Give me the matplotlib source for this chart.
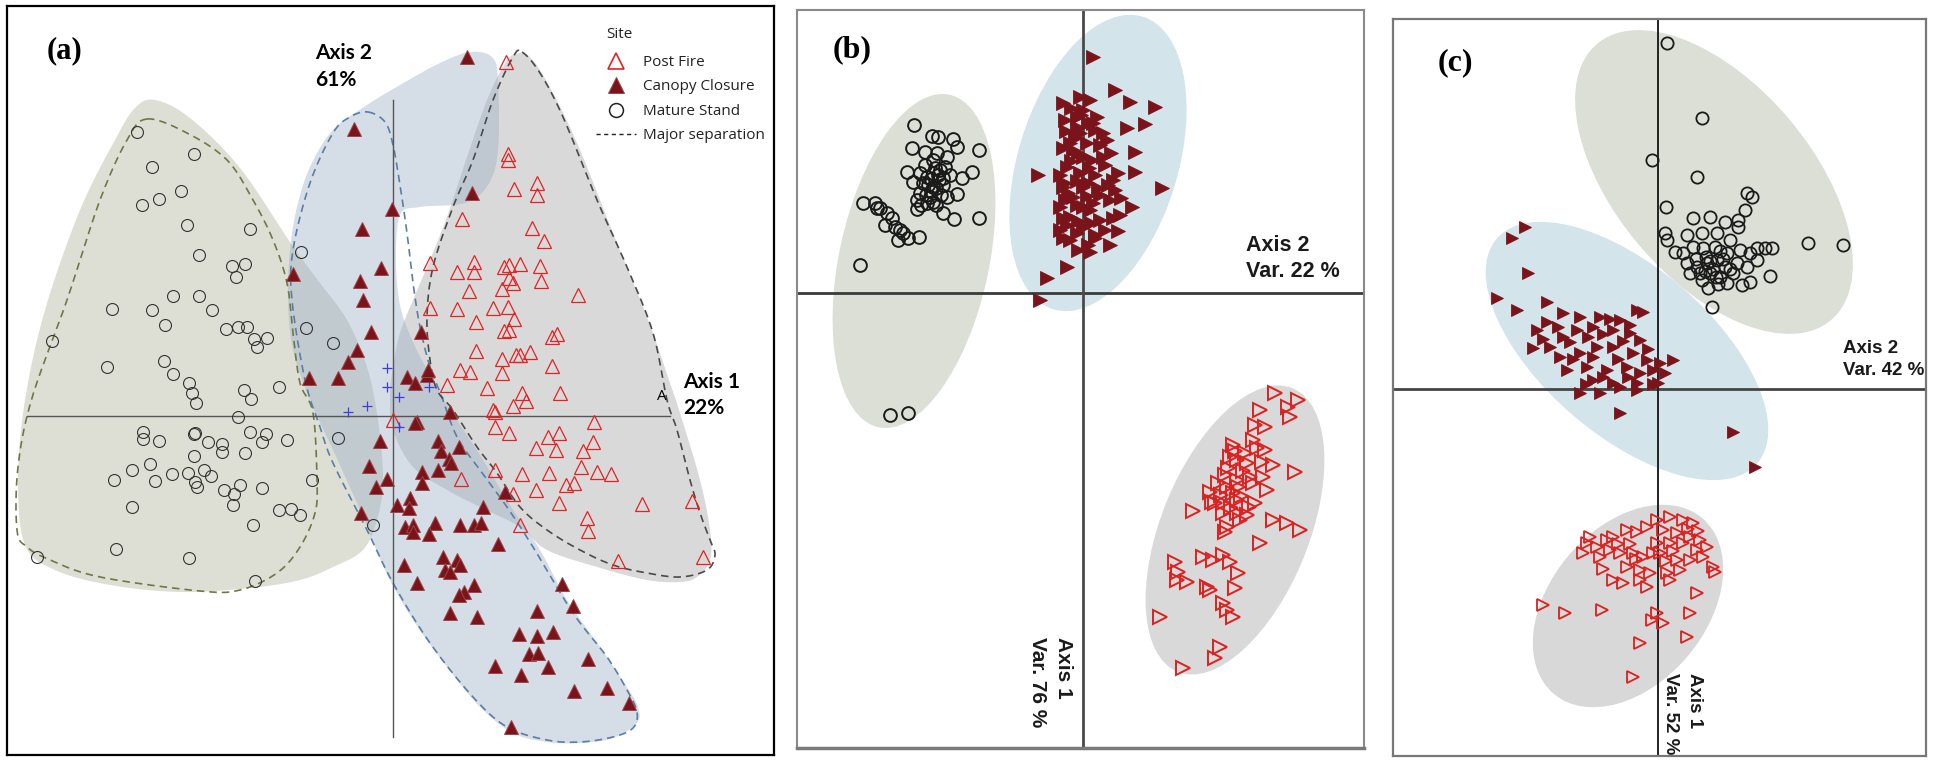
import numpy as np
import matplotlib
matplotlib.use("Agg")
import matplotlib.pyplot as plt
from matplotlib.patches import Ellipse
from matplotlib.lines import Line2D

# ---------------- panel (a): NMDS scores ----------------
a_mature = [(-2.56, 2.84), (-1.99, 2.62), (-2.41, 2.49), (-2.12, 2.25), (-2.34, 2.17), (-2.51, 2.11),
            (-2.06, 1.91), (-1.43, 1.87), (-1.94, 1.61), (-1.61, 1.50), (-1.48, 1.52), (-1.57, 1.39),
            (-0.92, 1.64), (-2.20, 1.20), (-1.94, 1.20), (-2.81, 1.07), (-2.41, 1.06), (-1.81, 1.06),
            (-2.28, 0.91), (-1.67, 0.87), (-1.55, 0.89), (-1.46, 0.89), (-0.87, 0.88), (-0.60, 0.73),
            (-1.39, 0.77), (-1.26, 0.78), (-1.36, 0.69), (-3.41, 0.75), (-2.86, 0.49), (-2.29, 0.55),
            (-2.20, 0.42), (-2.04, 0.33), (-2.01, 0.23), (-1.49, 0.26), (-1.14, 0.29), (-1.42, 0.17),
            (-1.97, 0.13), (-1.55, -0.01), (-2.50, -0.16), (-2.50, -0.23), (-2.34, -0.25), (-1.98, -0.17),
            (-1.99, -0.18), (-1.85, -0.26), (-1.71, -0.28), (-1.71, -0.36), (-1.43, -0.16), (-1.27, -0.18),
            (-1.31, -0.26), (-1.06, -0.24), (-1.99, -0.40), (-1.48, -0.37), (-0.55, -0.22), (-2.43, -0.48),
            (-2.61, -0.54), (-2.79, -0.64), (-2.38, -0.65), (-2.21, -0.58), (-2.05, -0.57), (-1.89, -0.54),
            (-1.82, -0.60), (-1.98, -0.66), (-1.96, -0.71), (-1.69, -0.74), (-1.53, -0.69), (-1.59, -0.78),
            (-1.31, -0.72), (-0.81, -0.64), (-1.60, -0.89), (-2.61, -0.91), (-1.14, -0.94), (-1.02, -0.93),
            (-0.93, -0.99), (-1.40, -1.09), (-0.20, -1.09), (-3.56, -1.41), (-2.77, -1.33), (-2.04, -1.42),
            (-1.38, -1.65)]

a_canopy = [(-0.39, 2.87), (-0.01, 2.07), (-0.31, 1.87), (-0.12, 1.48), (-0.33, 1.35), (-0.30, 1.16),
            (-0.22, 0.84), (-0.36, 0.66), (-0.45, 0.54), (-1.00, 1.42), (-0.84, 0.38), (-0.55, 0.38),
            (0.74, 3.59), (0.79, 2.23), (0.28, 0.84), (0.14, 0.39), (0.22, 0.33), (0.34, 0.41),
            (0.35, 0.46), (-0.13, -0.25), (-0.24, -0.50), (-0.06, -0.63), (-0.17, -0.71), (0.04, -0.89),
            (-0.32, -0.97), (0.57, 0.04), (0.24, -0.06), (0.22, -0.07), (0.45, -0.25), (0.48, -0.35),
            (0.66, -0.31), (0.56, -0.43), (0.58, -0.47), (0.45, -0.54), (0.29, -0.56), (0.29, -0.67),
            (0.17, -0.82), (0.16, -0.92), (0.90, -0.91), (0.42, -1.07), (0.12, -1.11), (0.20, -1.09),
            (0.20, -1.16), (0.36, -1.18), (0.67, -1.09), (0.81, -1.09), (0.88, -1.07), (1.05, -1.28),
            (1.12, -0.76), (0.11, -1.49), (0.50, -1.41), (0.64, -1.44), (0.67, -1.49), (0.52, -1.54),
            (0.57, -1.56), (0.24, -1.67), (0.81, -1.69), (0.71, -1.76), (0.66, -1.79), (1.69, -1.68),
            (1.80, -1.90), (1.44, -1.95), (0.57, -1.97), (0.84, -2.01), (1.26, -2.18), (1.44, -2.20),
            (1.60, -2.16), (1.36, -2.38), (1.45, -2.37), (1.95, -2.43), (1.02, -2.50), (1.55, -2.51),
            (1.28, -2.59), (1.81, -2.75), (2.14, -2.72), (2.36, -2.87), (1.18, -3.11)]

a_postfire = [(1.13, 3.54), (1.15, 2.62), (1.15, 2.56), (1.21, 2.27), (1.44, 2.33), (1.44, 2.21),
              (0.69, 1.97), (1.39, 1.88), (1.51, 1.75), (0.37, 1.53), (0.64, 1.44), (0.81, 1.54),
              (0.81, 1.44), (1.11, 1.49), (1.16, 1.51), (1.27, 1.52), (1.47, 1.50), (1.16, 1.38),
              (1.20, 1.33), (1.09, 1.27), (1.48, 1.35), (0.76, 1.25), (1.85, 1.21), (0.37, 1.08),
              (0.64, 1.07), (1.00, 1.08), (1.15, 1.09), (1.21, 0.97), (0.83, 0.94), (1.11, 0.85),
              (1.16, 0.86), (1.59, 0.79), (1.64, 0.82), (0.83, 0.65), (1.09, 0.57), (1.23, 0.61),
              (1.27, 0.61), (1.37, 0.64), (1.59, 0.50), (0.67, 0.46), (0.77, 0.44), (1.09, 0.43),
              (0.54, 0.31), (0.94, 0.28), (1.29, 0.23), (1.67, 0.23), (1.33, 0.15), (1.00, 0.06),
              (1.02, 0.04), (1.20, 0.10), (0.00, -0.04), (2.01, -0.06), (1.02, -0.11), (1.16, -0.17),
              (1.55, -0.21), (1.66, -0.17), (2.00, -0.26), (1.43, -0.32), (1.63, -0.34), (1.90, -0.35),
              (1.88, -0.51), (1.02, -0.54), (1.29, -0.58), (1.56, -0.57), (2.04, -0.56), (2.18, -0.58),
              (0.68, -0.63), (1.73, -0.69), (1.81, -0.67), (1.43, -0.74), (1.20, -0.78), (1.66, -0.87),
              (2.49, -0.88), (2.99, -0.85), (1.27, -1.09), (1.94, -1.02), (1.95, -1.15), (2.25, -1.45),
              (3.10, -1.41)]

a_centroids = [(-0.06, 0.48), (-0.06, 0.29), (0.36, 0.29), (0.06, 0.19), (-0.26, 0.10), (-0.45, 0.04),
               (0.06, -0.11)]

# group hulls (filled) and major separation lines (dashed)
a_mature_fill = [(-2.38, 3.16), (-2.03, 2.98), (-1.53, 2.48), (-1.01, 1.71), (-0.73, 1.33), (-0.46, 0.96),
                 (-0.26, 0.49), (-0.15, -0.04), (-0.10, -0.64), (-0.16, -1.04), (-0.30, -1.34),
                 (-0.60, -1.51), (-0.93, -1.64), (-1.43, -1.72), (-2.13, -1.76), (-2.83, -1.69),
                 (-3.38, -1.54), (-3.68, -1.29), (-3.75, -0.64), (-3.68, 0.16), (-3.48, 1.06),
                 (-3.13, 2.06), (-2.78, 2.76), (-2.58, 3.08)]
a_mature_line = [(-2.46, 2.97), (-2.06, 2.83), (-1.66, 2.56), (-1.40, 2.16), (-1.20, 1.76), (-1.06, 1.33),
                 (-1.00, 0.83), (-0.93, 0.33), (-0.80, 0.03), (-0.76, -0.64), (-0.78, -0.97),
                 (-0.93, -1.31), (-1.16, -1.57), (-1.53, -1.74), (-1.93, -1.75), (-2.93, -1.61),
                 (-3.43, -1.44), (-3.66, -1.31), (-3.76, -1.14), (-3.75, -0.51), (-3.61, 0.18),
                 (-3.26, 1.16), (-2.93, 2.16), (-2.66, 2.76)]
a_canopy_fill = [(0.07, 3.31), (0.47, 3.53), (0.77, 3.64), (0.99, 3.59), (1.05, 3.36), (1.05, 2.66),
                 (0.95, 2.31), (0.72, 2.13), (0.27, 2.09), (0.07, 2.01), (0.03, 1.56), (0.07, 1.11),
                 (0.19, 0.76), (0.37, 0.41), (0.54, 0.11), (0.87, -0.39), (1.20, -0.94), (1.47, -1.34),
                 (1.74, -1.84), (2.07, -2.31), (2.34, -2.71), (2.45, -2.91), (2.44, -3.07), (2.20, -3.22),
                 (1.87, -3.27), (1.54, -3.26), (1.20, -3.17), (0.87, -2.91), (0.54, -2.51), (0.20, -2.04),
                 (-0.08, -1.54), (-0.33, -0.94), (-0.60, -0.34), (-0.83, 0.16), (-1.00, 0.66),
                 (-1.05, 1.16), (-1.03, 1.66), (-0.96, 2.09), (-0.83, 2.49), (-0.60, 2.86), (-0.26, 3.11)]
a_canopy_line = [(-0.25, 3.04), (-0.08, 2.94), (0.00, 2.71), (0.07, 2.31), (0.14, 1.83), (0.20, 1.33),
                 (0.27, 0.89), (0.37, 0.49), (0.47, 0.24), (0.64, -0.21), (0.87, -0.54), (1.14, -0.91),
                 (1.40, -1.31), (1.80, -1.97), (2.14, -2.41), (2.34, -2.74), (2.44, -2.96), (2.40, -3.12),
                 (2.20, -3.21), (1.87, -3.26), (1.54, -3.24), (1.14, -3.11), (0.80, -2.81), (0.37, -2.27),
                 (0.00, -1.67), (-0.26, -1.14), (-0.60, -0.47), (-0.73, -0.11), (-0.88, 0.36),
                 (-1.01, 1.16), (-1.00, 1.66), (-0.83, 2.33), (-0.60, 2.83), (-0.43, 2.99)]
a_postfire_fill = [(1.20, 3.61), (1.37, 3.59), (1.60, 3.23), (1.87, 2.66), (2.20, 1.83), (2.54, 0.99),
                   (2.77, 0.33), (2.87, 0.03), (3.07, -0.64), (3.17, -1.14), (3.17, -1.44), (3.04, -1.61),
                   (2.87, -1.66), (2.54, -1.64), (2.04, -1.51), (1.54, -1.34), (1.27, -1.11), (0.87, -0.91),
                   (0.54, -0.74), (0.20, -0.51), (0.00, -0.14), (-0.03, 0.19), (0.00, 0.49), (0.07, 0.83),
                   (0.20, 1.16), (0.37, 1.56), (0.54, 1.99), (0.74, 2.59), (0.94, 3.16), (1.10, 3.49)]
a_postfire_line = [(1.29, 3.64), (1.47, 3.43), (1.70, 2.99), (2.04, 2.16), (2.34, 1.49), (2.60, 0.83),
                   (2.74, 0.16), (2.84, -0.14), (2.97, -0.64), (3.07, -0.97), (3.17, -1.24), (3.22, -1.39),
                   (3.14, -1.54), (2.87, -1.61), (2.54, -1.57), (2.20, -1.49), (1.87, -1.34), (1.54, -1.14),
                   (1.27, -0.91), (1.04, -0.57), (0.84, -0.31), (0.60, 0.06), (0.44, 0.26), (0.37, 0.56),
                   (0.34, 0.99), (0.40, 1.49), (0.60, 2.09), (0.80, 2.56), (1.00, 3.16), (1.20, 3.59)]

# ---------------- panel (b): PCA scores ----------------
b_mature = [(-1.69, 1.68), (-1.51, 1.57), (-1.45, 1.56), (-1.30, 1.54), (-1.26, 1.46), (-1.04, 1.43),
            (-1.71, 1.45), (-1.58, 1.41), (-1.46, 1.40), (-1.36, 1.36), (-1.50, 1.33), (-1.76, 1.21),
            (-1.63, 1.20), (-1.56, 1.16), (-1.50, 1.20), (-1.43, 1.23), (-1.33, 1.18), (-1.11, 1.21),
            (-1.21, 1.15), (-1.70, 1.11), (-1.60, 1.10), (-1.50, 1.06), (-1.40, 1.08), (-1.63, 1.00),
            (-1.53, 0.96), (-1.26, 0.99), (-1.36, 0.96), (-1.66, 0.93), (-1.56, 0.90), (-1.66, 0.84),
            (-1.50, 0.91), (-1.40, 0.80), (-1.29, 0.74), (-1.04, 0.75), (-2.20, 0.90), (-2.08, 0.90),
            (-2.03, 0.85), (-1.96, 0.80), (-1.91, 0.75), (-1.98, 0.68), (-1.88, 0.66), (-1.83, 0.63),
            (-1.85, 0.53), (-1.75, 0.55), (-1.64, 0.56), (-1.80, 0.60), (-2.23, 0.28), (-2.06, 0.85),
            (-1.93, -1.22), (-1.75, -1.20), (-1.48, 1.25), (-1.44, 1.13), (-1.52, 1.02), (-1.42, 0.98),
            (-1.58, 1.28), (-1.38, 1.26), (-1.47, 0.88), (-1.62, 0.88), (-1.45, 1.18), (-1.55, 1.08),
            (-1.47, 1.05), (-1.52, 1.14), (-1.40, 1.15), (-1.57, 0.98)]

b_canopy = [(-0.45, 1.18), (-0.36, 0.15), (-0.16, 0.26), (-0.43, -0.07), (0.10, 2.36), (0.32, 2.03),
            (0.47, 1.91), (0.72, 1.86), (0.62, 1.69), (0.44, 1.65), (0.52, 1.41), (0.52, 1.21),
            (0.79, 1.05), (0.49, 0.86), (0.17, 0.73), (0.27, 0.93), (0.30, 1.13), (0.20, 1.36),
            (0.24, 1.53), (0.14, 1.76), (0.07, 1.93), (-0.03, 1.96), (-0.06, 1.76), (-0.03, 1.60),
            (-0.10, 1.43), (-0.16, 1.26), (-0.03, 1.20), (-0.20, 1.06), (-0.10, 0.96), (-0.23, 0.86),
            (-0.13, 0.76), (-0.23, 0.63), (-0.06, 0.60), (0.00, 0.66), (-0.13, 0.53), (0.00, 0.86),
            (0.00, 1.06), (0.00, 1.36), (-0.06, 1.66), (0.00, 1.83), (0.12, 1.63), (0.17, 1.48),
            (0.09, 1.33), (0.22, 1.28), (0.12, 1.18), (0.32, 1.03), (0.17, 0.98), (0.07, 0.83),
            (0.37, 0.78), (0.22, 0.63), (0.05, 0.48), (0.27, 0.48), (-0.05, 0.43), (0.07, 0.41),
            (-0.18, 1.73), (-0.13, 1.50), (-0.23, 1.18), (-0.20, 1.90), (-0.12, 1.85), (-0.02, 1.78),
            (0.05, 1.70), (-0.17, 1.62), (-0.08, 1.55), (0.04, 1.50), (-0.20, 1.45), (-0.05, 1.40),
            (0.06, 1.25), (-0.12, 1.32), (-0.18, 1.10), (-0.06, 1.12), (0.05, 1.10), (-0.15, 1.00),
            (0.04, 0.97), (-0.18, 0.93), (-0.06, 0.88), (0.10, 0.90), (-0.20, 0.75), (-0.05, 0.72),
            (0.08, 0.70), (-0.16, 0.68), (0.12, 0.58), (-0.20, 0.55), (0.10, 1.70), (0.20, 1.60),
            (0.28, 1.40), (0.35, 1.20), (0.25, 1.08), (0.38, 0.95), (0.15, 1.05), (0.30, 0.75),
            (0.12, 0.55), (0.35, 0.62)]

b_postfire = [(1.92, -1.00), (2.15, -1.07), (2.05, -1.14), (1.77, -1.17), (2.07, -1.24), (1.72, -1.32),
              (1.82, -1.34), (1.70, -1.47), (1.50, -1.52), (1.74, -1.55), (1.82, -1.57), (1.47, -1.64),
              (1.54, -1.67), (1.64, -1.70), (1.79, -1.69), (1.90, -1.72), (2.12, -1.79), (1.42, -1.82),
              (1.54, -1.87), (1.67, -1.84), (1.80, -1.84), (1.44, -1.94), (1.55, -1.94), (1.84, -1.97),
              (1.27, -1.99), (1.29, -2.09), (1.40, -2.10), (1.54, -2.07), (1.72, -2.10), (1.10, -2.18),
              (1.40, -2.20), (1.54, -2.20), (1.64, -2.22), (1.57, -2.27), (1.44, -2.34), (1.90, -2.27),
              (2.04, -2.30), (2.17, -2.37), (1.42, -2.39), (1.77, -2.50), (0.92, -2.69), (1.20, -2.64),
              (1.30, -2.67), (1.40, -2.62), (1.47, -2.69), (1.55, -2.80), (0.95, -2.79), (1.04, -2.89),
              (0.94, -2.87), (1.24, -2.94), (1.27, -2.97), (1.52, -2.95), (1.40, -3.10), (1.44, -3.17),
              (1.50, -3.24), (0.77, -3.24), (1.37, -3.54), (1.32, -3.65), (1.00, -3.75), (1.32, -2.10),
              (1.45, -1.75), (1.35, -1.90), (1.50, -2.00), (1.60, -1.78), (1.58, -2.03), (1.48, -2.15),
              (1.62, -1.60), (1.70, -1.90), (1.38, -2.02), (1.66, -2.14), (1.52, -1.58)]

# ---------------- panel (c): PCA scores ----------------
c_mature = [(0.09, 3.46), (0.44, 2.71), (0.39, 2.12), (-0.06, 2.29), (0.08, 1.82), (0.89, 1.96),
            (0.94, 1.92), (0.87, 1.79), (0.80, 1.69), (0.80, 1.62), (0.35, 1.71), (0.52, 1.72),
            (0.67, 1.67), (0.29, 1.54), (0.44, 1.56), (0.59, 1.56), (0.72, 1.49), (0.07, 1.56),
            (0.09, 1.49), (0.17, 1.37), (0.25, 1.36), (0.35, 1.42), (0.45, 1.41), (0.57, 1.42),
            (0.69, 1.36), (0.82, 1.39), (0.92, 1.36), (0.99, 1.41), (1.07, 1.41), (1.14, 1.41),
            (0.99, 1.29), (0.29, 1.26), (0.39, 1.22), (0.49, 1.26), (0.59, 1.29), (0.67, 1.22),
            (0.79, 1.26), (0.89, 1.22), (0.42, 1.16), (0.52, 1.16), (0.62, 1.12), (0.75, 1.16),
            (0.32, 1.16), (0.84, 1.04), (0.92, 1.07), (0.69, 1.06), (0.50, 1.01), (0.44, 1.09),
            (1.12, 1.13), (0.54, 0.82), (1.50, 1.46), (1.85, 1.44), (0.55, 1.20), (0.60, 1.05),
            (0.48, 1.32), (0.65, 1.30), (0.38, 1.30), (0.62, 1.38), (0.52, 1.28), (0.72, 1.20),
            (0.58, 1.12), (0.47, 1.18)]

c_canopy = [(-1.33, 1.62), (-1.46, 1.51), (-1.30, 1.16), (-1.61, 0.91), (-1.41, 0.79), (-1.11, 0.87),
            (-0.95, 0.76), (-0.78, 0.72), (-0.58, 0.72), (-0.38, 0.69), (-0.21, 0.79), (-0.15, 0.77),
            (-1.21, 0.59), (-1.11, 0.67), (-1.25, 0.41), (-1.08, 0.42), (-0.95, 0.52), (-0.81, 0.59),
            (-0.65, 0.62), (-0.45, 0.59), (-0.28, 0.56), (-0.18, 0.49), (-0.98, 0.32), (-0.78, 0.36),
            (-0.61, 0.42), (-0.45, 0.42), (-0.25, 0.36), (-0.11, 0.29), (-0.71, 0.22), (-0.51, 0.19),
            (-0.31, 0.22), (-0.18, 0.16), (-0.05, 0.19), (-0.65, 0.09), (-0.45, 0.06), (-0.21, 0.06),
            (-0.91, 0.19), (-0.78, -0.04), (-0.58, -0.04), (-0.38, 0.02), (-0.21, -0.01), (-0.38, -0.24),
            (0.02, 0.26), (0.15, 0.29), (0.07, 0.16), (0.00, 0.06), (0.75, -0.43), (0.97, -0.78),
            (-1.00, 0.62), (-0.88, 0.47), (-0.70, 0.52), (-0.55, 0.55), (-0.35, 0.48), (-0.85, 0.30),
            (-0.65, 0.32), (-0.40, 0.30), (-0.30, 0.12), (-0.55, 0.12), (-0.10, 0.40), (-0.05, 0.05),
            (-0.72, 0.05), (-1.15, 0.50), (-0.48, 0.70), (-0.28, 0.64)]

c_postfire = [(-1.15, -2.16), (-0.93, -2.24), (-0.56, -2.21), (-0.06, -2.31), (-0.18, -2.54), (-0.25, -2.88),
              (-0.71, -1.54), (-0.75, -1.64), (-0.61, -1.58), (-0.51, -1.51), (-0.45, -1.48), (-0.31, -1.41),
              (-0.21, -1.43), (-0.11, -1.38), (-0.48, -1.61), (-0.38, -1.64), (-0.25, -1.64), (-0.15, -1.68),
              (-0.05, -1.64), (-0.31, -1.78), (-0.18, -1.81), (-0.08, -1.84), (-0.45, -1.91), (-0.35, -1.94),
              (-0.18, -1.91), (-0.11, -1.98), (-0.58, -1.68), (-0.68, -1.48), (-0.01, -1.31), (0.12, -1.28),
              (0.25, -1.31), (0.35, -1.34), (0.05, -1.41), (0.19, -1.44), (0.32, -1.48), (0.42, -1.51),
              (-0.01, -1.54), (0.12, -1.54), (0.25, -1.54), (0.39, -1.61), (0.49, -1.58), (0.02, -1.64),
              (0.19, -1.71), (0.32, -1.71), (0.45, -1.68), (0.55, -1.78), (0.57, -1.83), (0.09, -1.84),
              (0.22, -1.81), (0.12, -1.91), (0.39, -2.04), (0.32, -2.24), (-0.01, -2.24), (0.05, -2.34),
              (0.29, -2.48), (-0.40, -1.55), (-0.28, -1.55), (-0.55, -1.80), (-0.22, -1.70), (0.30, -1.40),
              (0.15, -1.62), (0.40, -1.42), (0.08, -1.72)]

# confidence ellipses: (centre x, centre y, width, height, angle)
b_ellipses = {"mature": (-1.69, 0.32, 1.50, 3.40, -12),
              "canopy": (0.15, 1.30, 1.60, 3.06, -17),
              "postfire": (1.52, -2.37, 1.48, 3.06, -22)}
c_ellipses = {"mature": (0.56, 2.07, 3.62, 1.96, -49.7),
              "canopy": (-0.31, 0.38, 3.44, 1.68, -40.8),
              "postfire": (-0.30, -2.17, 2.30, 1.56, 49.8)}

W, H = 1934, 763
PX = 100.0  # pixels per score unit

DARK_RED = "#7b141a"
RED = "#e02424"


def make_axes(fig, left, top, right, bottom, x0, y0):
    ax = fig.add_axes([left / W, 1 - bottom / H, (right - left) / W, (bottom - top) / H])
    ax.set_xlim((left - x0) / PX, (right - x0) / PX)
    ax.set_ylim((y0 - bottom) / PX, (y0 - top) / PX)
    ax.set_xticks([])
    ax.set_yticks([])
    return ax


def smooth_closed(pts, n=16):
    # closed Catmull-Rom curve through the hull vertices
    p = np.asarray(pts, dtype=float)
    P = np.vstack([p[-1], p, p[0], p[1]])
    t = np.linspace(0, 1, n, endpoint=False)[:, None]
    segs = []
    for i in range(1, len(p) + 1):
        p0, p1, p2, p3 = P[i - 1], P[i], P[i + 1], P[i + 2]
        segs.append(0.5 * (2 * p1 + (-p0 + p2) * t + (2 * p0 - 5 * p1 + 4 * p2 - p3) * t ** 2
                           + (-p0 + 3 * p1 - 3 * p2 + p3) * t ** 3))
    out = np.vstack(segs)
    return np.vstack([out, out[:1]])


def xy(pts):
    a = np.asarray(pts)
    return a[:, 0], a[:, 1]


fig = plt.figure(figsize=(W / 100, H / 100), dpi=100)

# ================= (a) =================
ax = make_axes(fig, 7, 6, 774, 755, 393, 416)
for s in ax.spines.values():
    s.set_linewidth(1.6)
    s.set_color("black")

for hull, col in [(a_mature_fill, "#aab196"), (a_postfire_fill, "#a0a0a0"), (a_canopy_fill, "#98acc5")]:
    c = smooth_closed(hull)
    ax.fill(c[:, 0], c[:, 1], color=col, alpha=0.4, lw=0, zorder=1)

for line, col in [(a_mature_line, "#6b7a45"), (a_canopy_line, "#5a7ea8"), (a_postfire_line, "#4a4a4a")]:
    c = smooth_closed(line)
    ax.plot(c[:, 0], c[:, 1], color=col, lw=1.2, ls=(0, (4.5, 3)), zorder=2)

ax.plot([-3.66, 2.77], [0, 0], color="#555555", lw=1.0, zorder=2)
ax.plot([0, 0], [3.16, -3.21], color="#555555", lw=1.0, zorder=2)

x, y = xy(a_mature)
ax.plot(x, y, "o", ms=8.6, mfc="none", mec="#333333", mew=0.8, zorder=3)
x, y = xy(a_postfire)
ax.plot(x, y, "^", ms=9.5, mfc="none", mec=RED, mew=0.9, zorder=3)
x, y = xy(a_canopy)
ax.plot(x, y, "^", ms=9.5, mfc=DARK_RED, mec="#9c4448", mew=0.7, zorder=3)
x, y = xy(a_centroids)
ax.plot(x, y, "+", ms=7.5, color="#3d3dd8", mew=0.9, zorder=4)

ax.text(-3.46, 3.65, "(a)", family="Liberation Serif", weight="bold", fontsize=22,
        va="center", ha="left")
ax.text(-0.78, 3.63, "Axis 2", family="Lato", weight="bold", fontsize=15, va="center", ha="left")
ax.text(-0.78, 3.36, "61%", family="Lato", weight="bold", fontsize=15, va="center", ha="left")
ax.text(2.90, 0.34, "Axis 1", family="Lato", weight="bold", fontsize=15, va="center", ha="left")
ax.text(2.90, 0.08, "22%", family="Lato", weight="bold", fontsize=15, va="center", ha="left")
ax.text(2.69, 0.19, "A", family="Open Sans", fontsize=11, va="center", ha="center")

ax.text(2.13, 3.81, "Site", family="Open Sans", fontsize=11, color="#222222", va="center", ha="left")
handles = [Line2D([], [], ls="none", marker="^", ms=11, mfc="none", mec=RED, mew=1.2),
           Line2D([], [], ls="none", marker="^", ms=11, mfc=DARK_RED, mec="#9c4448", mew=0.7),
           Line2D([], [], ls="none", marker="o", ms=10, mfc="none", mec="#222222", mew=1.1),
           Line2D([], [], color="#222222", lw=1.0, ls=(0, (3, 2.5)))]
labels = ["Post Fire", "Canopy Closure", "Mature Stand", "Major separation"]
leg = ax.legend(handles, labels, loc="upper left", bbox_to_anchor=(596 / W, 1 - 55 / H),
                bbox_transform=fig.transFigure, frameon=False, borderpad=0, borderaxespad=0,
                handlelength=2.6, handletextpad=0.45, labelspacing=0.62,
                prop={"family": "Open Sans", "size": 11})
for t in leg.get_texts():
    t.set_color("#222222")

# ================= (b) =================
ax = make_axes(fig, 797, 10, 1364, 748, 1083, 293)
for s in ax.spines.values():
    s.set_linewidth(1.5)
    s.set_color("#8a8a8a")
ax.spines["bottom"].set_linewidth(2.5)
ax.spines["bottom"].set_color("#7a7a7a")

for key, col in [("mature", "#dcdfd6"), ("canopy", "#d3e4ea"), ("postfire", "#d9d9d9")]:
    cx, cy, w, h, ang = b_ellipses[key]
    ax.add_patch(Ellipse((cx, cy), w, h, angle=ang, facecolor=col, edgecolor="none", zorder=1))

ax.axhline(0, color="#3a3a3a", lw=2.0, zorder=2)
ax.axvline(0, color="#4a4a4a", lw=2.0, zorder=2)

x, y = xy(b_mature)
ax.plot(x, y, "o", ms=9.2, mfc="none", mec="#1a1a1a", mew=1.4, zorder=3)
x, y = xy(b_canopy)
ax.plot(x, y, ">", ms=9.5, mfc=DARK_RED, mec=DARK_RED, mew=0.6, zorder=3)
x, y = xy(b_postfire)
ax.plot(x, y, ">", ms=9.5, mfc="none", mec="#dd2020", mew=1.4, zorder=3)

ax.text(-2.50, 2.43, "(b)", family="Liberation Serif", weight="bold", fontsize=23,
        va="center", ha="left")
ax.text(1.63, 0.47, "Axis 2", family="Liberation Sans", weight="bold", fontsize=15.5,
        color="#1a1a1a", va="center", ha="left")
ax.text(1.63, 0.21, "Var. 22 %", family="Liberation Sans", weight="bold", fontsize=15.5,
        color="#1a1a1a", va="center", ha="left")
ax.text(-0.20, -3.44, "Axis 1", family="Liberation Sans", weight="bold", fontsize=15,
        color="#1a1a1a", rotation=-90, va="top", ha="center")
ax.text(-0.45, -3.44, "Var. 76 %", family="Liberation Sans", weight="bold", fontsize=15,
        color="#1a1a1a", rotation=-90, va="top", ha="center")

# ================= (c) =================
ax = make_axes(fig, 1393, 19, 1926, 756, 1658, 389)
for s in ax.spines.values():
    s.set_linewidth(1.6)
    s.set_color("#777777")

for key, col in [("mature", "#dcdfd6"), ("canopy", "#d3e4ea"), ("postfire", "#d8d8d8")]:
    cx, cy, w, h, ang = c_ellipses[key]
    ax.add_patch(Ellipse((cx, cy), w, h, angle=ang, facecolor=col, edgecolor="none", zorder=1))

ax.axhline(0, color="#444444", lw=2.0, zorder=2)
ax.axvline(0, color="#222222", lw=1.4, zorder=2)

x, y = xy(c_mature)
ax.plot(x, y, "o", ms=8.8, mfc="none", mec="#1a1a1a", mew=1.3, zorder=3)
x, y = xy(c_canopy)
ax.plot(x, y, ">", ms=9, mfc=DARK_RED, mec=DARK_RED, mew=0.6, zorder=3)
x, y = xy(c_postfire)
ax.plot(x, y, ">", ms=9, mfc="none", mec="#dd2020", mew=1.3, zorder=3)

ax.text(-2.20, 3.26, "(c)", family="Liberation Serif", weight="bold", fontsize=23,
        va="center", ha="left")
ax.text(1.85, 0.41, "Axis 2", family="Liberation Sans", weight="bold", fontsize=13.5,
        color="#1a1a1a", va="center", ha="left", clip_on=True)
ax.text(1.85, 0.19, "Var. 42 %", family="Liberation Sans", weight="bold", fontsize=13.5,
        color="#1a1a1a", va="center", ha="left", clip_on=True)
ax.text(0.37, -2.84, "Axis 1", family="Liberation Sans", weight="bold", fontsize=13.5,
        color="#1a1a1a", rotation=-90, va="top", ha="center", clip_on=True)
ax.text(0.12, -2.84, "Var. 52 %", family="Liberation Sans", weight="bold", fontsize=13.5,
        color="#1a1a1a", rotation=-90, va="top", ha="center", clip_on=True)

fig.savefig("out.png", dpi=100)
